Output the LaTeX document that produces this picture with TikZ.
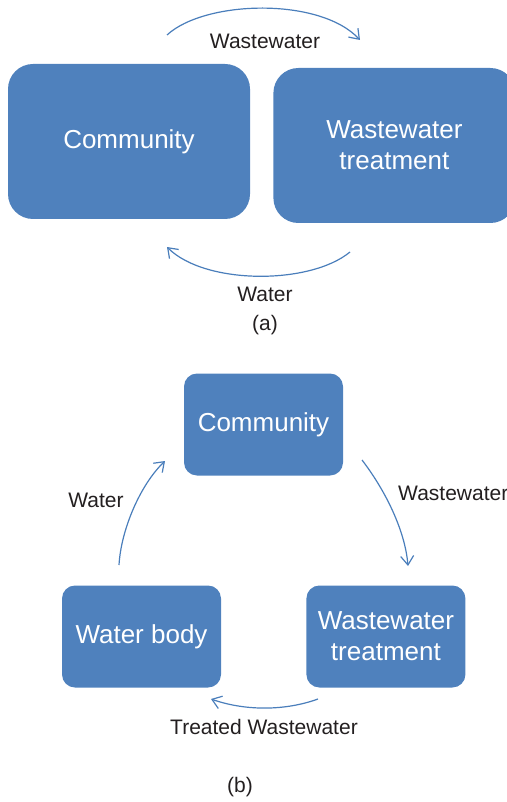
\documentclass[tikz,border=0pt]{standalone}
\usepackage{fontspec}
\setmainfont{Liberation Sans}
\usepackage{tikz}
\usetikzlibrary{
  arrows.meta,
  positioning
}
\definecolor{cyclblue}{RGB}{79,129,189}
\definecolor{flowblue}{RGB}{74,126,187}
\definecolor{labink}{RGB}{35,31,32}
\newcommand{\boxfont}{\fontsize{26}{31}\selectfont}
\newcommand{\labfont}{\fontsize{21}{25}\selectfont}
\tikzset{
  bigbox/.style={fill=cyclblue,draw=none,rounded corners=25pt,
    minimum width=242pt,minimum height=155pt,inner sep=0pt,
    align=center,text=white,font=\boxfont},
  smallbox/.style={fill=cyclblue,draw=none,rounded corners=13pt,
    minimum width=159pt,minimum height=102pt,inner sep=0pt,
    align=center,text=white,font=\boxfont},
  flow/.style={-{Straight Barb[length=9pt,width=13pt]},line width=1.2pt,
    draw=flowblue},
  lab/.style={font=\labfont,text=labink,inner sep=0pt,align=center}
}

\begin{document}
\begin{tikzpicture}[x=1pt,y=-1pt]
  \useasboundingbox (0,0) rectangle (506,802);
  % (a)
  \node[bigbox] (comA) at (129,141.5) {Community};
  \node[bigbox,right=23pt of comA,yshift=-4pt] (wwtA) {Wastewater\\treatment};
  \coordinate (aTopS) at (167,35);
  \coordinate (aTopE) at (360,40);
  \coordinate (aBotS) at (350,252);
  \coordinate (aBotE) at (167,247);
  \draw[flow] (aTopS) .. controls (205,0) and (320,-3) .. (aTopE);
  \draw[flow] (aBotS) .. controls (310,285) and (205,285) .. (aBotE);
  \node[lab] (wwA) at (265,41) {Wastewater};
  \node[lab] (wA) at (265,294) {Water};
  \node[lab] (capA) at (265,325) {(a)};
  % (b)
  \node[smallbox] (comB) at (263.5,424.5) {Community};
  \node[smallbox] (bodyB) at (141.5,636.5) {Water body};
  \node[smallbox,right=85pt of bodyB] (wwtB) {Wastewater\\treatment};
  \coordinate (bRS) at (362,460);
  \coordinate (bRE) at (408,566);
  \coordinate (bLS) at (119,565);
  \coordinate (bLE) at (165,461);
  \coordinate (bBS) at (318,699);
  \coordinate (bBE) at (211,699);
  \draw[flow] (bRS) .. controls (385,490) and (405,530) .. (bRE);
  \draw[flow] (bLS) .. controls (121,530) and (140,485) .. (bLE);
  \draw[flow] (bBS) .. controls (285,711) and (245,711) .. (bBE);
  \node[lab,anchor=west] (wwB) at (398,493) {Wastewater};
  \node[lab] (wB) at (96,500) {Water};
  \node[lab] (twB) at (264,727) {Treated Wastewater};
  \node[lab] (capB) at (240,787) {(b)};
\end{tikzpicture}
\end{document}
